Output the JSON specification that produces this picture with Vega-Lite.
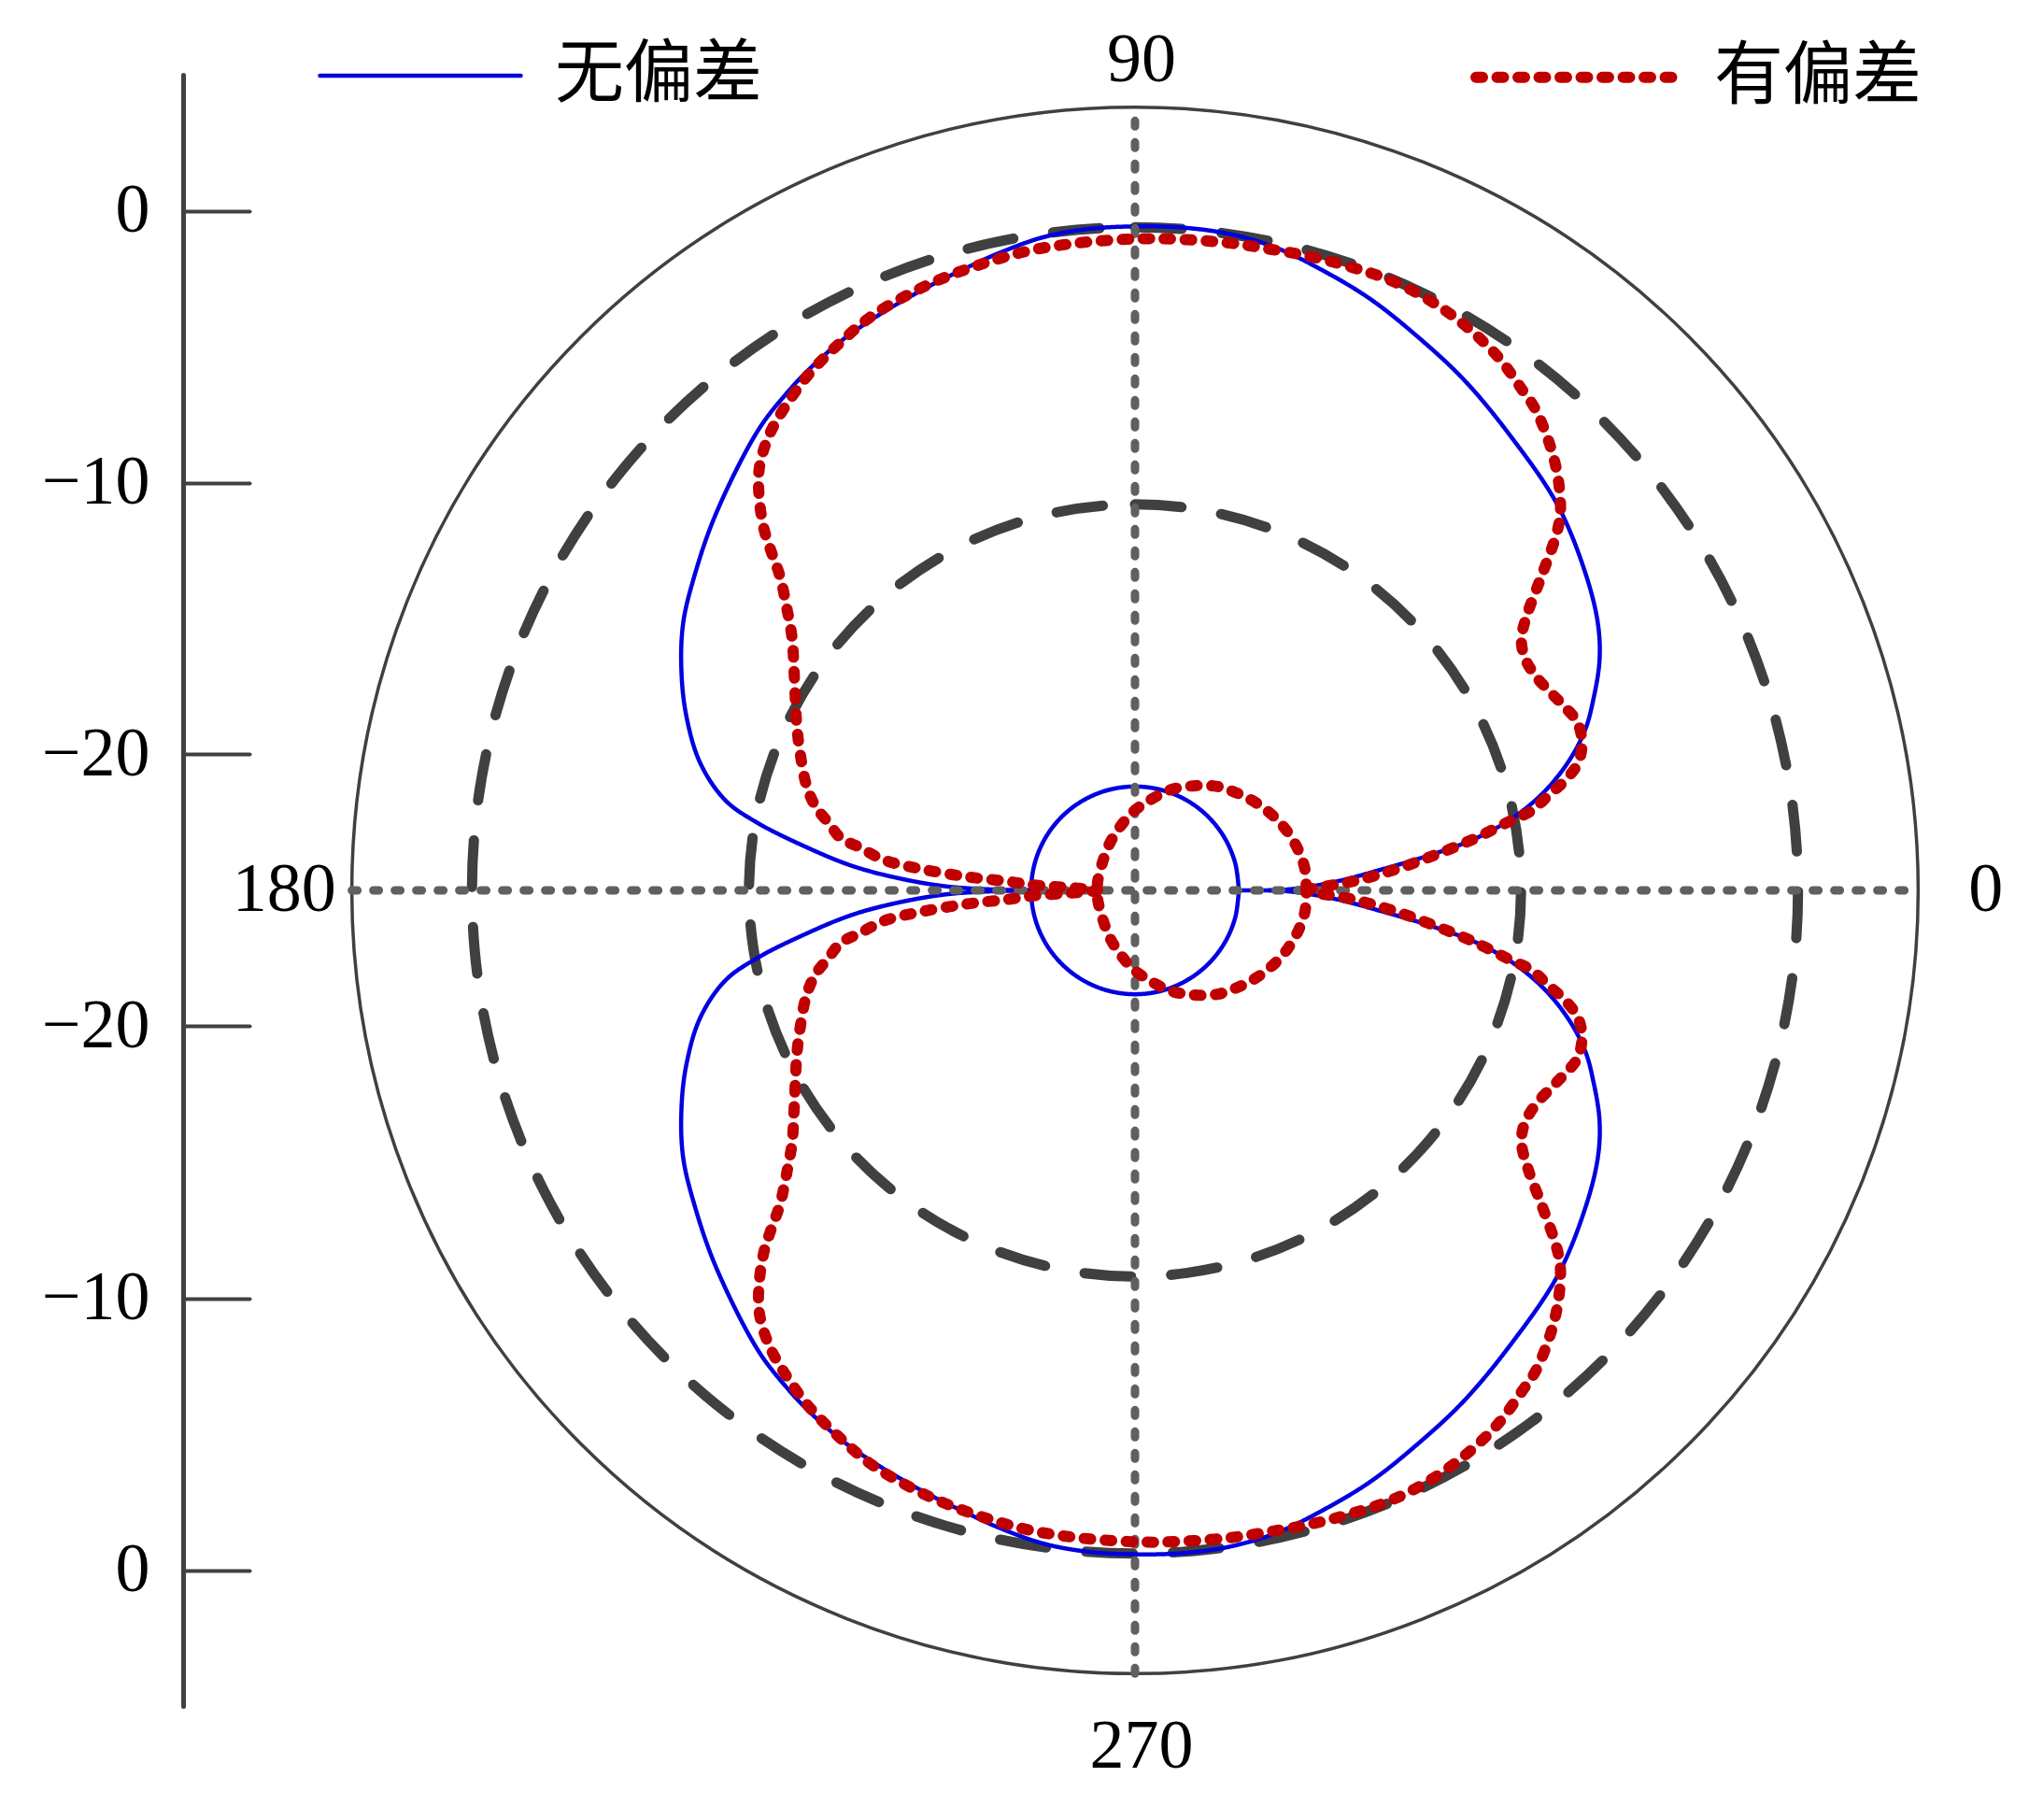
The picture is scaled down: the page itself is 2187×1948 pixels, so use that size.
{
  "$schema": "https://vega.github.io/schema/vega-lite/v6.json",
  "width": 1746,
  "height": 1746,
  "autosize": {"type": "none"},
  "padding": {"left": 342, "top": 80, "right": 99, "bottom": 122},
  "background": "white",
  "datasets": {
    "rings": [
      {"ring": "outer", "db": 3.81},
      {"ring": "dash", "db": -0.61},
      {"ring": "dash", "db": -10.8}
    ],
    "labels": [
      {"angle": 0, "label": "0"},
      {"angle": 90, "label": "90"},
      {"angle": 180, "label": "180"},
      {"angle": 270, "label": "270"}
    ],
    "curves": [
      {"series": "无偏差", "part": "lobe", "angle": 0, "db": -21.18},
      {"series": "无偏差", "part": "lobe", "angle": 0.4, "db": -19.33},
      {"series": "无偏差", "part": "lobe", "angle": 2.5, "db": -17.6},
      {"series": "无偏差", "part": "lobe", "angle": 4.9, "db": -15.85},
      {"series": "无偏差", "part": "lobe", "angle": 6.8, "db": -14.09},
      {"series": "无偏差", "part": "lobe", "angle": 8.7, "db": -12.3},
      {"series": "无偏差", "part": "lobe", "angle": 10.9, "db": -10.82},
      {"series": "无偏差", "part": "lobe", "angle": 13.6, "db": -9.49},
      {"series": "无偏差", "part": "lobe", "angle": 16.7, "db": -8.31},
      {"series": "无偏差", "part": "lobe", "angle": 19.7, "db": -7.4},
      {"series": "无偏差", "part": "lobe", "angle": 22.5, "db": -6.76},
      {"series": "无偏差", "part": "lobe", "angle": 26.3, "db": -5.94},
      {"series": "无偏差", "part": "lobe", "angle": 30.0, "db": -5.34},
      {"series": "无偏差", "part": "lobe", "angle": 35.2, "db": -4.73},
      {"series": "无偏差", "part": "lobe", "angle": 42.4, "db": -3.96},
      {"series": "无偏差", "part": "lobe", "angle": 50.4, "db": -3.32},
      {"series": "无偏差", "part": "lobe", "angle": 57.2, "db": -2.66},
      {"series": "无偏差", "part": "lobe", "angle": 63.0, "db": -2.13},
      {"series": "无偏差", "part": "lobe", "angle": 68.3, "db": -1.59},
      {"series": "无偏差", "part": "lobe", "angle": 73.1, "db": -1.18},
      {"series": "无偏差", "part": "lobe", "angle": 77.6, "db": -0.8},
      {"series": "无偏差", "part": "lobe", "angle": 81.8, "db": -0.61},
      {"series": "无偏差", "part": "lobe", "angle": 85.8, "db": -0.56},
      {"series": "无偏差", "part": "lobe", "angle": 89.9, "db": -0.58},
      {"series": "无偏差", "part": "lobe", "angle": 93.9, "db": -0.61},
      {"series": "无偏差", "part": "lobe", "angle": 98.0, "db": -0.74},
      {"series": "无偏差", "part": "lobe", "angle": 102.3, "db": -1.05},
      {"series": "无偏差", "part": "lobe", "angle": 105.3, "db": -1.29},
      {"series": "无偏差", "part": "lobe", "angle": 108.3, "db": -1.49},
      {"series": "无偏差", "part": "lobe", "angle": 111.5, "db": -1.69},
      {"series": "无偏差", "part": "lobe", "angle": 114.8, "db": -1.88},
      {"series": "无偏差", "part": "lobe", "angle": 118.1, "db": -2.08},
      {"series": "无偏差", "part": "lobe", "angle": 122.1, "db": -2.40},
      {"series": "无偏差", "part": "lobe", "angle": 124.9, "db": -2.66},
      {"series": "无偏差", "part": "lobe", "angle": 129.3, "db": -3.12},
      {"series": "无偏差", "part": "lobe", "angle": 138.1, "db": -4.28},
      {"series": "无偏差", "part": "lobe", "angle": 144.5, "db": -5.09},
      {"series": "无偏差", "part": "lobe", "angle": 149.4, "db": -5.69},
      {"series": "无偏差", "part": "lobe", "angle": 154.1, "db": -6.45},
      {"series": "无偏差", "part": "lobe", "angle": 158.8, "db": -7.3},
      {"series": "无偏差", "part": "lobe", "angle": 163.7, "db": -8.34},
      {"series": "无偏差", "part": "lobe", "angle": 167.6, "db": -9.57},
      {"series": "无偏差", "part": "lobe", "angle": 169.8, "db": -10.85},
      {"series": "无偏差", "part": "lobe", "angle": 172.5, "db": -12.8},
      {"series": "无偏差", "part": "lobe", "angle": 175.1, "db": -14.59},
      {"series": "无偏差", "part": "lobe", "angle": 177.1, "db": -16.33},
      {"series": "无偏差", "part": "lobe", "angle": 178.8, "db": -18.06},
      {"series": "无偏差", "part": "lobe", "angle": 179.6, "db": -19.67},
      {"series": "无偏差", "part": "lobe", "angle": 180, "db": -21.18},
      {"series": "无偏差", "part": "lobe", "angle": 180.4, "db": -19.67},
      {"series": "无偏差", "part": "lobe", "angle": 181.2, "db": -18.06},
      {"series": "无偏差", "part": "lobe", "angle": 182.9, "db": -16.33},
      {"series": "无偏差", "part": "lobe", "angle": 184.9, "db": -14.59},
      {"series": "无偏差", "part": "lobe", "angle": 187.5, "db": -12.8},
      {"series": "无偏差", "part": "lobe", "angle": 190.2, "db": -10.85},
      {"series": "无偏差", "part": "lobe", "angle": 192.4, "db": -9.57},
      {"series": "无偏差", "part": "lobe", "angle": 196.3, "db": -8.34},
      {"series": "无偏差", "part": "lobe", "angle": 201.2, "db": -7.3},
      {"series": "无偏差", "part": "lobe", "angle": 205.9, "db": -6.45},
      {"series": "无偏差", "part": "lobe", "angle": 210.6, "db": -5.69},
      {"series": "无偏差", "part": "lobe", "angle": 215.5, "db": -5.09},
      {"series": "无偏差", "part": "lobe", "angle": 221.9, "db": -4.28},
      {"series": "无偏差", "part": "lobe", "angle": 230.7, "db": -3.12},
      {"series": "无偏差", "part": "lobe", "angle": 235.1, "db": -2.66},
      {"series": "无偏差", "part": "lobe", "angle": 237.9, "db": -2.40},
      {"series": "无偏差", "part": "lobe", "angle": 241.9, "db": -2.08},
      {"series": "无偏差", "part": "lobe", "angle": 245.2, "db": -1.88},
      {"series": "无偏差", "part": "lobe", "angle": 248.5, "db": -1.69},
      {"series": "无偏差", "part": "lobe", "angle": 251.7, "db": -1.49},
      {"series": "无偏差", "part": "lobe", "angle": 254.7, "db": -1.29},
      {"series": "无偏差", "part": "lobe", "angle": 257.7, "db": -1.05},
      {"series": "无偏差", "part": "lobe", "angle": 262.0, "db": -0.74},
      {"series": "无偏差", "part": "lobe", "angle": 266.1, "db": -0.61},
      {"series": "无偏差", "part": "lobe", "angle": 270.1, "db": -0.58},
      {"series": "无偏差", "part": "lobe", "angle": 274.2, "db": -0.56},
      {"series": "无偏差", "part": "lobe", "angle": 278.2, "db": -0.61},
      {"series": "无偏差", "part": "lobe", "angle": 282.4, "db": -0.8},
      {"series": "无偏差", "part": "lobe", "angle": 286.9, "db": -1.18},
      {"series": "无偏差", "part": "lobe", "angle": 291.7, "db": -1.59},
      {"series": "无偏差", "part": "lobe", "angle": 297.0, "db": -2.13},
      {"series": "无偏差", "part": "lobe", "angle": 302.8, "db": -2.66},
      {"series": "无偏差", "part": "lobe", "angle": 309.6, "db": -3.32},
      {"series": "无偏差", "part": "lobe", "angle": 317.6, "db": -3.96},
      {"series": "无偏差", "part": "lobe", "angle": 324.8, "db": -4.73},
      {"series": "无偏差", "part": "lobe", "angle": 330.0, "db": -5.34},
      {"series": "无偏差", "part": "lobe", "angle": 333.7, "db": -5.94},
      {"series": "无偏差", "part": "lobe", "angle": 337.5, "db": -6.76},
      {"series": "无偏差", "part": "lobe", "angle": 340.3, "db": -7.4},
      {"series": "无偏差", "part": "lobe", "angle": 343.3, "db": -8.31},
      {"series": "无偏差", "part": "lobe", "angle": 346.4, "db": -9.49},
      {"series": "无偏差", "part": "lobe", "angle": 349.1, "db": -10.82},
      {"series": "无偏差", "part": "lobe", "angle": 351.3, "db": -12.3},
      {"series": "无偏差", "part": "lobe", "angle": 353.2, "db": -14.09},
      {"series": "无偏差", "part": "lobe", "angle": 355.1, "db": -15.85},
      {"series": "无偏差", "part": "lobe", "angle": 357.5, "db": -17.6},
      {"series": "无偏差", "part": "lobe", "angle": 359.6, "db": -19.33},
      {"series": "无偏差", "part": "lobe", "angle": 360, "db": -21.18},
      {"series": "无偏差", "part": "ring", "angle": 0, "db": -21.18},
      {"series": "无偏差", "part": "ring", "angle": 15, "db": -21.18},
      {"series": "无偏差", "part": "ring", "angle": 30, "db": -21.18},
      {"series": "无偏差", "part": "ring", "angle": 45, "db": -21.18},
      {"series": "无偏差", "part": "ring", "angle": 60, "db": -21.18},
      {"series": "无偏差", "part": "ring", "angle": 75, "db": -21.18},
      {"series": "无偏差", "part": "ring", "angle": 90, "db": -21.18},
      {"series": "无偏差", "part": "ring", "angle": 105, "db": -21.18},
      {"series": "无偏差", "part": "ring", "angle": 120, "db": -21.18},
      {"series": "无偏差", "part": "ring", "angle": 135, "db": -21.18},
      {"series": "无偏差", "part": "ring", "angle": 150, "db": -21.18},
      {"series": "无偏差", "part": "ring", "angle": 165, "db": -21.18},
      {"series": "无偏差", "part": "ring", "angle": 180, "db": -21.18},
      {"series": "无偏差", "part": "ring", "angle": 195, "db": -21.18},
      {"series": "无偏差", "part": "ring", "angle": 210, "db": -21.18},
      {"series": "无偏差", "part": "ring", "angle": 225, "db": -21.18},
      {"series": "无偏差", "part": "ring", "angle": 240, "db": -21.18},
      {"series": "无偏差", "part": "ring", "angle": 255, "db": -21.18},
      {"series": "无偏差", "part": "ring", "angle": 270, "db": -21.18},
      {"series": "无偏差", "part": "ring", "angle": 285, "db": -21.18},
      {"series": "无偏差", "part": "ring", "angle": 300, "db": -21.18},
      {"series": "无偏差", "part": "ring", "angle": 315, "db": -21.18},
      {"series": "无偏差", "part": "ring", "angle": 330, "db": -21.18},
      {"series": "无偏差", "part": "ring", "angle": 345, "db": -21.18},
      {"series": "无偏差", "part": "ring", "angle": 360, "db": -21.18},
      {"series": "有偏差", "part": "lobe", "angle": 0, "db": -18.7},
      {"series": "有偏差", "part": "lobe", "angle": 0.3, "db": -18.64},
      {"series": "有偏差", "part": "lobe", "angle": 2.3, "db": -17.03},
      {"series": "有偏差", "part": "lobe", "angle": 4.4, "db": -15.52},
      {"series": "有偏差", "part": "lobe", "angle": 6.6, "db": -13.98},
      {"series": "有偏差", "part": "lobe", "angle": 8.6, "db": -12.42},
      {"series": "有偏差", "part": "lobe", "angle": 10.5, "db": -10.95},
      {"series": "有偏差", "part": "lobe", "angle": 11.4, "db": -10.09},
      {"series": "有偏差", "part": "lobe", "angle": 12.9, "db": -9.42},
      {"series": "有偏差", "part": "lobe", "angle": 14.2, "db": -8.74},
      {"series": "有偏差", "part": "lobe", "angle": 15.9, "db": -8.08},
      {"series": "有偏差", "part": "lobe", "angle": 18.1, "db": -7.7},
      {"series": "有偏差", "part": "lobe", "angle": 20.8, "db": -7.59},
      {"series": "有偏差", "part": "lobe", "angle": 23.1, "db": -7.81},
      {"series": "有偏差", "part": "lobe", "angle": 25.4, "db": -8.06},
      {"series": "有偏差", "part": "lobe", "angle": 28.2, "db": -8.29},
      {"series": "有偏差", "part": "lobe", "angle": 30.9, "db": -8.3},
      {"series": "有偏差", "part": "lobe", "angle": 33.1, "db": -8.03},
      {"series": "有偏差", "part": "lobe", "angle": 35.2, "db": -7.33},
      {"series": "有偏差", "part": "lobe", "angle": 37.7, "db": -6.1},
      {"series": "有偏差", "part": "lobe", "angle": 40.1, "db": -4.76},
      {"series": "有偏差", "part": "lobe", "angle": 41.5, "db": -4.11},
      {"series": "有偏差", "part": "lobe", "angle": 43.9, "db": -3.37},
      {"series": "有偏差", "part": "lobe", "angle": 46.7, "db": -2.68},
      {"series": "有偏差", "part": "lobe", "angle": 50.2, "db": -1.98},
      {"series": "有偏差", "part": "lobe", "angle": 52.2, "db": -1.73},
      {"series": "有偏差", "part": "lobe", "angle": 55.8, "db": -1.26},
      {"series": "有偏差", "part": "lobe", "angle": 59.5, "db": -0.95},
      {"series": "有偏差", "part": "lobe", "angle": 63.2, "db": -0.75},
      {"series": "有偏差", "part": "lobe", "angle": 67.0, "db": -0.67},
      {"series": "有偏差", "part": "lobe", "angle": 70.7, "db": -0.73},
      {"series": "有偏差", "part": "lobe", "angle": 74.5, "db": -0.81},
      {"series": "有偏差", "part": "lobe", "angle": 78.2, "db": -0.9},
      {"series": "有偏差", "part": "lobe", "angle": 81.9, "db": -0.94},
      {"series": "有偏差", "part": "lobe", "angle": 87.7, "db": -1.01},
      {"series": "有偏差", "part": "lobe", "angle": 91.5, "db": -1.06},
      {"series": "有偏差", "part": "lobe", "angle": 95.4, "db": -1.1},
      {"series": "有偏差", "part": "lobe", "angle": 99.3, "db": -1.15},
      {"series": "有偏差", "part": "lobe", "angle": 103.0, "db": -1.26},
      {"series": "有偏差", "part": "lobe", "angle": 106.8, "db": -1.38},
      {"series": "有偏差", "part": "lobe", "angle": 110.4, "db": -1.53},
      {"series": "有偏差", "part": "lobe", "angle": 114.6, "db": -1.76},
      {"series": "有偏差", "part": "lobe", "angle": 118.3, "db": -2.12},
      {"series": "有偏差", "part": "lobe", "angle": 122.2, "db": -2.53},
      {"series": "有偏差", "part": "lobe", "angle": 126.0, "db": -3.06},
      {"series": "有偏差", "part": "lobe", "angle": 128.9, "db": -3.54},
      {"series": "有偏差", "part": "lobe", "angle": 131.6, "db": -4.19},
      {"series": "有偏差", "part": "lobe", "angle": 133.8, "db": -5.03},
      {"series": "有偏差", "part": "lobe", "angle": 135.8, "db": -5.97},
      {"series": "有偏差", "part": "lobe", "angle": 137.2, "db": -6.81},
      {"series": "有偏差", "part": "lobe", "angle": 138.5, "db": -7.56},
      {"series": "有偏差", "part": "lobe", "angle": 141.2, "db": -8.59},
      {"series": "有偏差", "part": "lobe", "angle": 143.7, "db": -9.35},
      {"series": "有偏差", "part": "lobe", "angle": 147.1, "db": -10.06},
      {"series": "有偏差", "part": "lobe", "angle": 150.8, "db": -10.69},
      {"series": "有偏差", "part": "lobe", "angle": 154.1, "db": -11.17},
      {"series": "有偏差", "part": "lobe", "angle": 157.8, "db": -11.7},
      {"series": "有偏差", "part": "lobe", "angle": 162.2, "db": -12.3},
      {"series": "有偏差", "part": "lobe", "angle": 165.3, "db": -12.85},
      {"series": "有偏差", "part": "lobe", "angle": 167.5, "db": -13.44},
      {"series": "有偏差", "part": "lobe", "angle": 169.9, "db": -14.0},
      {"series": "有偏差", "part": "lobe", "angle": 171.1, "db": -14.73},
      {"series": "有偏差", "part": "lobe", "angle": 173.1, "db": -15.71},
      {"series": "有偏差", "part": "lobe", "angle": 174.3, "db": -17.11},
      {"series": "有偏差", "part": "lobe", "angle": 175.4, "db": -18.85},
      {"series": "有偏差", "part": "lobe", "angle": 176.0, "db": -20.35},
      {"series": "有偏差", "part": "lobe", "angle": 176.9, "db": -21.15},
      {"series": "有偏差", "part": "lobe", "angle": 177.7, "db": -22.65},
      {"series": "有偏差", "part": "lobe", "angle": 180, "db": -23.62},
      {"series": "有偏差", "part": "lobe", "angle": 182.3, "db": -22.65},
      {"series": "有偏差", "part": "lobe", "angle": 183.1, "db": -21.15},
      {"series": "有偏差", "part": "lobe", "angle": 184.0, "db": -20.35},
      {"series": "有偏差", "part": "lobe", "angle": 184.6, "db": -18.85},
      {"series": "有偏差", "part": "lobe", "angle": 185.7, "db": -17.11},
      {"series": "有偏差", "part": "lobe", "angle": 186.9, "db": -15.71},
      {"series": "有偏差", "part": "lobe", "angle": 188.9, "db": -14.73},
      {"series": "有偏差", "part": "lobe", "angle": 190.1, "db": -14.0},
      {"series": "有偏差", "part": "lobe", "angle": 192.5, "db": -13.44},
      {"series": "有偏差", "part": "lobe", "angle": 194.7, "db": -12.85},
      {"series": "有偏差", "part": "lobe", "angle": 197.8, "db": -12.3},
      {"series": "有偏差", "part": "lobe", "angle": 202.2, "db": -11.7},
      {"series": "有偏差", "part": "lobe", "angle": 205.9, "db": -11.17},
      {"series": "有偏差", "part": "lobe", "angle": 209.2, "db": -10.69},
      {"series": "有偏差", "part": "lobe", "angle": 212.9, "db": -10.06},
      {"series": "有偏差", "part": "lobe", "angle": 216.3, "db": -9.35},
      {"series": "有偏差", "part": "lobe", "angle": 218.8, "db": -8.59},
      {"series": "有偏差", "part": "lobe", "angle": 221.5, "db": -7.56},
      {"series": "有偏差", "part": "lobe", "angle": 222.8, "db": -6.81},
      {"series": "有偏差", "part": "lobe", "angle": 224.2, "db": -5.97},
      {"series": "有偏差", "part": "lobe", "angle": 226.2, "db": -5.03},
      {"series": "有偏差", "part": "lobe", "angle": 228.4, "db": -4.19},
      {"series": "有偏差", "part": "lobe", "angle": 231.1, "db": -3.54},
      {"series": "有偏差", "part": "lobe", "angle": 234.0, "db": -3.06},
      {"series": "有偏差", "part": "lobe", "angle": 237.8, "db": -2.53},
      {"series": "有偏差", "part": "lobe", "angle": 241.7, "db": -2.12},
      {"series": "有偏差", "part": "lobe", "angle": 245.4, "db": -1.76},
      {"series": "有偏差", "part": "lobe", "angle": 249.6, "db": -1.53},
      {"series": "有偏差", "part": "lobe", "angle": 253.2, "db": -1.38},
      {"series": "有偏差", "part": "lobe", "angle": 257.0, "db": -1.26},
      {"series": "有偏差", "part": "lobe", "angle": 260.7, "db": -1.15},
      {"series": "有偏差", "part": "lobe", "angle": 264.6, "db": -1.1},
      {"series": "有偏差", "part": "lobe", "angle": 268.5, "db": -1.06},
      {"series": "有偏差", "part": "lobe", "angle": 272.3, "db": -1.01},
      {"series": "有偏差", "part": "lobe", "angle": 278.1, "db": -0.94},
      {"series": "有偏差", "part": "lobe", "angle": 281.8, "db": -0.9},
      {"series": "有偏差", "part": "lobe", "angle": 285.5, "db": -0.81},
      {"series": "有偏差", "part": "lobe", "angle": 289.3, "db": -0.73},
      {"series": "有偏差", "part": "lobe", "angle": 293.0, "db": -0.67},
      {"series": "有偏差", "part": "lobe", "angle": 296.8, "db": -0.75},
      {"series": "有偏差", "part": "lobe", "angle": 300.5, "db": -0.95},
      {"series": "有偏差", "part": "lobe", "angle": 304.2, "db": -1.26},
      {"series": "有偏差", "part": "lobe", "angle": 307.8, "db": -1.73},
      {"series": "有偏差", "part": "lobe", "angle": 309.8, "db": -1.98},
      {"series": "有偏差", "part": "lobe", "angle": 313.3, "db": -2.68},
      {"series": "有偏差", "part": "lobe", "angle": 316.1, "db": -3.37},
      {"series": "有偏差", "part": "lobe", "angle": 318.5, "db": -4.11},
      {"series": "有偏差", "part": "lobe", "angle": 319.9, "db": -4.76},
      {"series": "有偏差", "part": "lobe", "angle": 322.3, "db": -6.1},
      {"series": "有偏差", "part": "lobe", "angle": 324.8, "db": -7.33},
      {"series": "有偏差", "part": "lobe", "angle": 326.9, "db": -8.03},
      {"series": "有偏差", "part": "lobe", "angle": 329.1, "db": -8.3},
      {"series": "有偏差", "part": "lobe", "angle": 331.8, "db": -8.29},
      {"series": "有偏差", "part": "lobe", "angle": 334.6, "db": -8.06},
      {"series": "有偏差", "part": "lobe", "angle": 336.9, "db": -7.81},
      {"series": "有偏差", "part": "lobe", "angle": 339.2, "db": -7.59},
      {"series": "有偏差", "part": "lobe", "angle": 341.9, "db": -7.7},
      {"series": "有偏差", "part": "lobe", "angle": 344.1, "db": -8.08},
      {"series": "有偏差", "part": "lobe", "angle": 345.8, "db": -8.74},
      {"series": "有偏差", "part": "lobe", "angle": 347.1, "db": -9.42},
      {"series": "有偏差", "part": "lobe", "angle": 348.6, "db": -10.09},
      {"series": "有偏差", "part": "lobe", "angle": 349.5, "db": -10.95},
      {"series": "有偏差", "part": "lobe", "angle": 351.4, "db": -12.42},
      {"series": "有偏差", "part": "lobe", "angle": 353.4, "db": -13.98},
      {"series": "有偏差", "part": "lobe", "angle": 355.6, "db": -15.52},
      {"series": "有偏差", "part": "lobe", "angle": 357.7, "db": -17.03},
      {"series": "有偏差", "part": "lobe", "angle": 359.7, "db": -18.64},
      {"series": "有偏差", "part": "lobe", "angle": 360, "db": -18.7},
      {"series": "有偏差", "part": "ring", "angle": 0, "db": -18.7},
      {"series": "有偏差", "part": "ring", "angle": 7.1, "db": -18.7},
      {"series": "有偏差", "part": "ring", "angle": 13.7, "db": -18.81},
      {"series": "有偏差", "part": "ring", "angle": 21.0, "db": -18.99},
      {"series": "有偏差", "part": "ring", "angle": 28.2, "db": -19.22},
      {"series": "有偏差", "part": "ring", "angle": 36.3, "db": -19.52},
      {"series": "有偏差", "part": "ring", "angle": 44.0, "db": -19.83},
      {"series": "有偏差", "part": "ring", "angle": 51.5, "db": -20.12},
      {"series": "有偏差", "part": "ring", "angle": 59.9, "db": -20.55},
      {"series": "有偏差", "part": "ring", "angle": 70.4, "db": -21.07},
      {"series": "有偏差", "part": "ring", "angle": 81.1, "db": -21.66},
      {"series": "有偏差", "part": "ring", "angle": 91.2, "db": -22.1},
      {"series": "有偏差", "part": "ring", "angle": 102.2, "db": -22.56},
      {"series": "有偏差", "part": "ring", "angle": 117.6, "db": -23.02},
      {"series": "有偏差", "part": "ring", "angle": 140.0, "db": -23.43},
      {"series": "有偏差", "part": "ring", "angle": 166.8, "db": -23.59},
      {"series": "有偏差", "part": "ring", "angle": 180, "db": -23.62},
      {"series": "有偏差", "part": "ring", "angle": 193.2, "db": -23.59},
      {"series": "有偏差", "part": "ring", "angle": 220.0, "db": -23.43},
      {"series": "有偏差", "part": "ring", "angle": 242.4, "db": -23.02},
      {"series": "有偏差", "part": "ring", "angle": 257.8, "db": -22.56},
      {"series": "有偏差", "part": "ring", "angle": 268.8, "db": -22.1},
      {"series": "有偏差", "part": "ring", "angle": 278.9, "db": -21.66},
      {"series": "有偏差", "part": "ring", "angle": 289.6, "db": -21.07},
      {"series": "有偏差", "part": "ring", "angle": 300.1, "db": -20.55},
      {"series": "有偏差", "part": "ring", "angle": 308.5, "db": -20.12},
      {"series": "有偏差", "part": "ring", "angle": 316.0, "db": -19.83},
      {"series": "有偏差", "part": "ring", "angle": 323.7, "db": -19.52},
      {"series": "有偏差", "part": "ring", "angle": 331.8, "db": -19.22},
      {"series": "有偏差", "part": "ring", "angle": 339.0, "db": -18.99},
      {"series": "有偏差", "part": "ring", "angle": 346.3, "db": -18.81},
      {"series": "有偏差", "part": "ring", "angle": 352.9, "db": -18.7},
      {"series": "有偏差", "part": "ring", "angle": 360, "db": -18.7}
    ]
  },
  "layer": [
    {
      "data": {"name": "rings"},
      "transform": [
        {"filter": "datum.ring === 'outer'"},
        {"calculate": "datum.db + 25", "as": "r"}
      ],
      "mark": {"type": "arc", "theta": 0, "theta2": 6.2832, "filled": false, "stroke": "#404040", "strokeWidth": 3.5},
      "encoding": {
        "radius": {"field": "r", "type": "quantitative", "stack": null, "scale": {"type": "linear", "domain": [0, 30], "range": [0, 873], "zero": true, "nice": false}}
      }
    },
    {
      "data": {"name": "rings"},
      "transform": [
        {"filter": "datum.ring === 'dash'"},
        {"calculate": "datum.db + 25", "as": "r"}
      ],
      "mark": {"type": "arc", "theta": 0, "theta2": 6.2832, "filled": false, "stroke": "#404040", "strokeWidth": 11, "strokeDash": [50, 43], "strokeCap": "round"},
      "encoding": {
        "radius": {"field": "r", "type": "quantitative", "stack": null, "scale": {"type": "linear", "domain": [0, 30], "range": [0, 873], "zero": true, "nice": false}}
      }
    },
    {
      "data": {"name": "curves"},
      "transform": [
        {"filter": "datum.series === '无偏差'"},
        {"calculate": "(datum.db + 25) * cos(datum.angle * PI / 180)", "as": "px"},
        {"calculate": "(datum.db + 25) * sin(datum.angle * PI / 180)", "as": "py"}
      ],
      "mark": {"type": "line", "strokeCap": "round", "strokeJoin": "round", "interpolate": "catmull-rom"},
      "encoding": {
        "x": {"field": "px", "type": "quantitative", "scale": {"domain": [-30, 30], "nice": false}, "axis": null},
        "y": {"field": "py", "type": "quantitative", "scale": {"domain": [-30, 30], "nice": false},
          "axis": {"values": [-25, -15, -5, 5, 15, 25], "labelExpr": "format(abs(datum.value) - 25, 'd')", "offset": 146, "tickSize": -71, "labelPadding": 107, "title": null, "grid": false,
            "domainColor": "#404040", "domainWidth": 5, "domainCap": "round", "tickColor": "#404040", "tickWidth": 4, "tickCap": "round",
            "labelFont": "Liberation Serif", "labelFontSize": 74, "labelColor": "black", "labelAlign": "right", "labelBaseline": "middle"}},
        "detail": {"field": "part", "type": "nominal"},
        "order": {"field": "angle", "type": "quantitative"},
        "color": {"field": "series", "type": "nominal", "scale": {"domain": ["无偏差", "有偏差"], "range": ["#0000e0", "#c00000"]},
          "legend": {"title": null, "orient": "none", "legendX": -2, "legendY": -111, "direction": "horizontal", "encode": {"symbols": {"update": {"strokeCap": {"value": "round"}}}}}},
        "strokeDash": {"field": "series", "type": "nominal", "scale": {"domain": ["无偏差", "有偏差"], "range": [[1, 0], [7, 15.5]]},
          "legend": {"title": null, "orient": "none", "legendX": -2, "legendY": -111, "direction": "horizontal"}},
        "strokeWidth": {"field": "series", "type": "nominal", "scale": {"type": "ordinal", "domain": ["无偏差", "有偏差"], "range": [4.5, 12]},
          "legend": {"title": null, "orient": "none", "legendX": -2, "legendY": -111, "direction": "horizontal"}}
      }
    },
    {
      "data": {"values": [{"k": 1}]},
      "mark": {"type": "rule", "color": "#606060", "strokeWidth": 9, "strokeDash": [6, 17], "strokeCap": "round"},
      "encoding": {
        "x": {"datum": -28.81, "type": "quantitative", "scale": {"domain": [-30, 30], "nice": false}, "axis": null},
        "x2": {"datum": 28.81},
        "y": {"datum": 0, "type": "quantitative", "scale": {"domain": [-30, 30], "nice": false},
          "axis": {"values": [-25, -15, -5, 5, 15, 25], "labelExpr": "format(abs(datum.value) - 25, 'd')", "offset": 146, "tickSize": -71, "labelPadding": 107, "title": null, "grid": false,
            "domainColor": "#404040", "domainWidth": 5, "domainCap": "round", "tickColor": "#404040", "tickWidth": 4, "tickCap": "round",
            "labelFont": "Liberation Serif", "labelFontSize": 74, "labelColor": "black", "labelAlign": "right", "labelBaseline": "middle"}}
      }
    },
    {
      "data": {"values": [{"k": 1}]},
      "mark": {"type": "rule", "color": "#606060", "strokeWidth": 9, "strokeDash": [6, 17], "strokeCap": "round"},
      "encoding": {
        "x": {"datum": 0, "type": "quantitative", "scale": {"domain": [-30, 30], "nice": false}, "axis": null},
        "y": {"datum": -28.81, "type": "quantitative", "scale": {"domain": [-30, 30], "nice": false},
          "axis": {"values": [-25, -15, -5, 5, 15, 25], "labelExpr": "format(abs(datum.value) - 25, 'd')", "offset": 146, "tickSize": -71, "labelPadding": 107, "title": null, "grid": false,
            "domainColor": "#404040", "domainWidth": 5, "domainCap": "round", "tickColor": "#404040", "tickWidth": 4, "tickCap": "round",
            "labelFont": "Liberation Serif", "labelFontSize": 74, "labelColor": "black", "labelAlign": "right", "labelBaseline": "middle"}},
        "y2": {"datum": 28.81}
      }
    },
    {
      "data": {"name": "curves"},
      "transform": [
        {"filter": "datum.series === '有偏差'"},
        {"calculate": "(datum.db + 25) * cos(datum.angle * PI / 180)", "as": "px"},
        {"calculate": "(datum.db + 25) * sin(datum.angle * PI / 180)", "as": "py"}
      ],
      "mark": {"type": "line", "strokeCap": "round", "strokeJoin": "round", "interpolate": "catmull-rom"},
      "encoding": {
        "x": {"field": "px", "type": "quantitative", "scale": {"domain": [-30, 30], "nice": false}, "axis": null},
        "y": {"field": "py", "type": "quantitative", "scale": {"domain": [-30, 30], "nice": false},
          "axis": {"values": [-25, -15, -5, 5, 15, 25], "labelExpr": "format(abs(datum.value) - 25, 'd')", "offset": 146, "tickSize": -71, "labelPadding": 107, "title": null, "grid": false,
            "domainColor": "#404040", "domainWidth": 5, "domainCap": "round", "tickColor": "#404040", "tickWidth": 4, "tickCap": "round",
            "labelFont": "Liberation Serif", "labelFontSize": 74, "labelColor": "black", "labelAlign": "right", "labelBaseline": "middle"}},
        "detail": {"field": "part", "type": "nominal"},
        "order": {"field": "angle", "type": "quantitative"},
        "color": {"field": "series", "type": "nominal", "scale": {"domain": ["无偏差", "有偏差"], "range": ["#0000e0", "#c00000"]},
          "legend": {"title": null, "orient": "none", "legendX": -2, "legendY": -111, "direction": "horizontal", "encode": {"symbols": {"update": {"strokeCap": {"value": "round"}}}}}},
        "strokeDash": {"field": "series", "type": "nominal", "scale": {"domain": ["无偏差", "有偏差"], "range": [[1, 0], [7, 15.5]]},
          "legend": {"title": null, "orient": "none", "legendX": -2, "legendY": -111, "direction": "horizontal"}},
        "strokeWidth": {"field": "series", "type": "nominal", "scale": {"type": "ordinal", "domain": ["无偏差", "有偏差"], "range": [4.5, 12]},
          "legend": {"title": null, "orient": "none", "legendX": -2, "legendY": -111, "direction": "horizontal"}}
      }
    },
    {
      "data": {"name": "labels"},
      "transform": [{"filter": "datum.angle === 0 || datum.angle === 180"}],
      "mark": {"type": "text", "font": "Liberation Serif", "fontSize": 74, "color": "black", "align": "center", "baseline": "middle"},
      "encoding": {
        "theta": {"field": "angle", "type": "quantitative", "stack": null, "scale": {"domain": [0, 360], "range": [1.5708, -4.7124]}},
        "radius": {"datum": 31.3, "type": "quantitative", "scale": {"type": "linear", "domain": [0, 30], "range": [0, 873], "zero": true, "nice": false}},
        "text": {"field": "label", "type": "nominal"}
      }
    },
    {
      "data": {"name": "labels"},
      "transform": [{"filter": "datum.angle === 90"}],
      "mark": {"type": "text", "font": "Liberation Serif", "fontSize": 74, "color": "black", "align": "center", "baseline": "middle", "dx": 7},
      "encoding": {
        "theta": {"field": "angle", "type": "quantitative", "stack": null, "scale": {"domain": [0, 360], "range": [1.5708, -4.7124]}},
        "radius": {"datum": 30.5, "type": "quantitative", "scale": {"type": "linear", "domain": [0, 30], "range": [0, 873], "zero": true, "nice": false}},
        "text": {"field": "label", "type": "nominal"}
      }
    },
    {
      "data": {"name": "labels"},
      "transform": [{"filter": "datum.angle === 270"}],
      "mark": {"type": "text", "font": "Liberation Serif", "fontSize": 74, "color": "black", "align": "center", "baseline": "middle", "dx": 7},
      "encoding": {
        "theta": {"field": "angle", "type": "quantitative", "stack": null, "scale": {"domain": [0, 360], "range": [1.5708, -4.7124]}},
        "radius": {"datum": 31.5, "type": "quantitative", "scale": {"type": "linear", "domain": [0, 30], "range": [0, 873], "zero": true, "nice": false}},
        "text": {"field": "label", "type": "nominal"}
      }
    }
  ],
  "config": {
    "view": {"stroke": null},
    "legend": {
      "symbolType": "stroke",
      "symbolSize": 46225,
      "labelFont": "Noto Sans CJK SC",
      "labelFontSize": 74,
      "labelColor": "black",
      "labelOffset": 34,
      "labelLimit": 0,
      "columnPadding": 740,
      "padding": 0,
      "direction": "horizontal"
    }
  }
}
